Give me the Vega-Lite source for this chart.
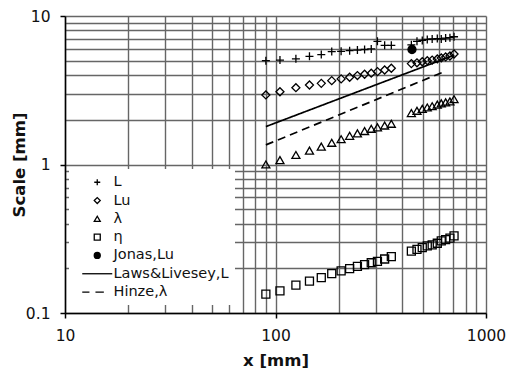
{
  "$schema": "https://vega.github.io/schema/vega-lite/v6.json",
  "width": 421,
  "height": 297,
  "autosize": {"type": "none"},
  "padding": {"left": 65, "top": 16, "right": 22, "bottom": 59},
  "background": "white",
  "config": {
    "view": {"stroke": null},
    "font": "DejaVu Sans",
    "axis": {
      "gridColor": "#666666",
      "gridWidth": 1.4,
      "gridOpacity": 1,
      "domainColor": "black",
      "domainWidth": 1.5,
      "tickColor": "black",
      "tickWidth": 1.5,
      "tickSize": 5,
      "labelFont": "DejaVu Sans",
      "labelFontSize": 15.5,
      "labelColor": "#111",
      "labelOverlap": false,
      "labelFlush": false,
      "titleFont": "DejaVu Sans",
      "titleFontSize": 16.5,
      "titleFontWeight": "bold",
      "titleColor": "#111"
    },
    "legend": {
      "fillColor": "white",
      "padding": 6,
      "symbolOffset": 15,
      "symbolSize": 36,
      "symbolStrokeColor": "black",
      "symbolStrokeWidth": 1.3,
      "symbolOpacity": 1,
      "labelFont": "DejaVu Sans",
      "labelFontSize": 14.5,
      "labelColor": "#111",
      "labelOffset": 9,
      "rowPadding": 3.3
    }
  },
  "datasets": {
    "points": [
      {"series": "L", "x": 90, "y": 5.0}, {"series": "L", "x": 105, "y": 5.05}, {"series": "L", "x": 125, "y": 5.15},
      {"series": "L", "x": 145, "y": 5.35}, {"series": "L", "x": 165, "y": 5.5}, {"series": "L", "x": 185, "y": 5.76},
      {"series": "L", "x": 205, "y": 5.78}, {"series": "L", "x": 225, "y": 5.84}, {"series": "L", "x": 245, "y": 5.9},
      {"series": "L", "x": 265, "y": 5.95}, {"series": "L", "x": 285, "y": 6.0}, {"series": "L", "x": 305, "y": 6.75},
      {"series": "L", "x": 330, "y": 6.35}, {"series": "L", "x": 355, "y": 6.35},
      {"series": "L", "x": 442, "y": 6.4}, {"series": "L", "x": 470, "y": 6.75}, {"series": "L", "x": 498, "y": 6.85},
      {"series": "L", "x": 526, "y": 6.95}, {"series": "L", "x": 555, "y": 7.0}, {"series": "L", "x": 587, "y": 7.05},
      {"series": "L", "x": 613, "y": 7.0}, {"series": "L", "x": 643, "y": 7.1}, {"series": "L", "x": 674, "y": 7.15},
      {"series": "L", "x": 705, "y": 7.25},

      {"series": "Lu", "x": 90, "y": 2.94}, {"series": "Lu", "x": 105, "y": 3.09}, {"series": "Lu", "x": 125, "y": 3.29},
      {"series": "Lu", "x": 145, "y": 3.43}, {"series": "Lu", "x": 165, "y": 3.52}, {"series": "Lu", "x": 185, "y": 3.67},
      {"series": "Lu", "x": 205, "y": 3.77}, {"series": "Lu", "x": 225, "y": 3.87}, {"series": "Lu", "x": 245, "y": 3.97},
      {"series": "Lu", "x": 265, "y": 4.05}, {"series": "Lu", "x": 285, "y": 4.12}, {"series": "Lu", "x": 305, "y": 4.22},
      {"series": "Lu", "x": 330, "y": 4.33}, {"series": "Lu", "x": 355, "y": 4.45},
      {"series": "Lu", "x": 442, "y": 4.78}, {"series": "Lu", "x": 470, "y": 4.84}, {"series": "Lu", "x": 498, "y": 4.92},
      {"series": "Lu", "x": 526, "y": 5.0}, {"series": "Lu", "x": 555, "y": 5.05}, {"series": "Lu", "x": 587, "y": 5.14},
      {"series": "Lu", "x": 613, "y": 5.22}, {"series": "Lu", "x": 643, "y": 5.3}, {"series": "Lu", "x": 674, "y": 5.38},
      {"series": "Lu", "x": 705, "y": 5.55},

      {"series": "λ", "x": 90, "y": 1.0}, {"series": "λ", "x": 105, "y": 1.07}, {"series": "λ", "x": 125, "y": 1.16},
      {"series": "λ", "x": 145, "y": 1.24}, {"series": "λ", "x": 165, "y": 1.32}, {"series": "λ", "x": 185, "y": 1.4},
      {"series": "λ", "x": 205, "y": 1.48}, {"series": "λ", "x": 225, "y": 1.56}, {"series": "λ", "x": 245, "y": 1.62},
      {"series": "λ", "x": 265, "y": 1.68}, {"series": "λ", "x": 285, "y": 1.74}, {"series": "λ", "x": 305, "y": 1.78},
      {"series": "λ", "x": 330, "y": 1.83}, {"series": "λ", "x": 355, "y": 1.88},
      {"series": "λ", "x": 442, "y": 2.22}, {"series": "λ", "x": 470, "y": 2.3}, {"series": "λ", "x": 498, "y": 2.37},
      {"series": "λ", "x": 526, "y": 2.42}, {"series": "λ", "x": 555, "y": 2.47}, {"series": "λ", "x": 587, "y": 2.53},
      {"series": "λ", "x": 613, "y": 2.58}, {"series": "λ", "x": 643, "y": 2.62}, {"series": "λ", "x": 674, "y": 2.66},
      {"series": "λ", "x": 705, "y": 2.75},

      {"series": "η", "x": 90, "y": 0.134}, {"series": "η", "x": 105, "y": 0.141}, {"series": "η", "x": 125, "y": 0.154},
      {"series": "η", "x": 145, "y": 0.164}, {"series": "η", "x": 165, "y": 0.173}, {"series": "η", "x": 185, "y": 0.184},
      {"series": "η", "x": 205, "y": 0.192}, {"series": "η", "x": 225, "y": 0.199}, {"series": "η", "x": 245, "y": 0.206},
      {"series": "η", "x": 265, "y": 0.212}, {"series": "η", "x": 285, "y": 0.218}, {"series": "η", "x": 305, "y": 0.223},
      {"series": "η", "x": 330, "y": 0.231}, {"series": "η", "x": 355, "y": 0.24},
      {"series": "η", "x": 442, "y": 0.261}, {"series": "η", "x": 470, "y": 0.268}, {"series": "η", "x": 498, "y": 0.276},
      {"series": "η", "x": 526, "y": 0.283}, {"series": "η", "x": 555, "y": 0.288}, {"series": "η", "x": 587, "y": 0.295},
      {"series": "η", "x": 613, "y": 0.306}, {"series": "η", "x": 643, "y": 0.312}, {"series": "η", "x": 674, "y": 0.319},
      {"series": "η", "x": 705, "y": 0.331},

      {"series": "Jonas,Lu", "x": 445, "y": 5.95}
    ],
    "curves": [
      {"series": "Laws&Livesey,L", "x": 90, "y": 1.8},
      {"series": "Laws&Livesey,L", "x": 705, "y": 5.45},
      {"series": "Hinze,λ", "x": 90, "y": 1.355},
      {"series": "Hinze,λ", "x": 646, "y": 4.27}
    ]
  },
  "encoding": {
    "x": {
      "field": "x",
      "type": "quantitative",
      "scale": {"type": "log", "domain": [10, 1000], "nice": false},
      "axis": {
        "title": "x [mm]",
        "values": [10, 20, 30, 40, 50, 60, 70, 80, 90, 100, 200, 300, 400, 500, 600, 700, 800, 900, 1000],
        "labelExpr": "datum.value == 10 ? '10' : datum.value == 100 ? '100' : datum.value == 1000 ? '1000' : ''",
        "tickOpacity": {"condition": {"test": "datum.value == 10 || datum.value == 100 || datum.value == 1000", "value": 1}, "value": 0},
        "labelPadding": 10,
        "titleX": 210.5,
        "titleY": 47,
        "titleAlign": "center",
        "titleBaseline": "middle"
      }
    },
    "y": {
      "field": "y",
      "type": "quantitative",
      "scale": {"type": "log", "domain": [0.1, 10], "nice": false},
      "axis": {
        "title": "Scale [mm]",
        "values": [0.1, 0.2, 0.3, 0.4, 0.5, 0.6, 0.7, 0.8, 0.9, 1, 2, 3, 4, 5, 6, 7, 8, 9, 10],
        "labelExpr": "datum.value == 0.1 ? '0.1' : datum.value == 1 ? '1' : datum.value == 10 ? '10' : ''",
        "tickOpacity": {"condition": {"test": "datum.value == 0.1 || datum.value == 1 || datum.value == 10", "value": 1}, "value": 0},
        "labelPadding": 10,
        "titleX": -46,
        "titleY": 148.5,
        "titleAngle": 270,
        "titleAlign": "center",
        "titleBaseline": "middle"
      }
    }
  },
  "layer": [
    {
      "data": {"name": "curves"},
      "mark": {"type": "line", "color": "black", "strokeWidth": 1.7},
      "encoding": {
        "detail": {"field": "series"},
        "strokeDash": {
          "field": "series",
          "type": "nominal",
          "scale": {"domain": ["Laws&Livesey,L", "Hinze,λ"], "range": [[1, 0], [8, 5]]},
          "legend": null
        }
      }
    },
    {
      "data": {"name": "points"},
      "mark": {"type": "point", "stroke": "black", "strokeWidth": 1.3, "opacity": 1},
      "encoding": {
        "shape": {
          "field": "series",
          "type": "nominal",
          "scale": {
            "domain": ["L", "Lu", "λ", "η", "Jonas,Lu", "Laws&Livesey,L", "Hinze,λ"],
            "range": ["M-1,0H1M0,-1V1", "diamond", "triangle-up", "square", "circle", "M-5,0H5", "M-5,0H-2.6M-0.6,0H2.2"]
          },
          "legend": {
            "title": null, "orient": "none", "legendX": 4, "legendY": 153,
            "encode": {"symbols": {"update": {"stroke": {"value": "black"}, "strokeWidth": {"value": 1.3}, "opacity": {"value": 1}}}}
          }
        },
        "fill": {
          "field": "series",
          "type": "nominal",
          "scale": {
            "domain": ["L", "Lu", "λ", "η", "Jonas,Lu", "Laws&Livesey,L", "Hinze,λ"],
            "range": ["transparent", "transparent", "transparent", "transparent", "black", "transparent", "transparent"]
          },
          "legend": {
            "title": null, "orient": "none", "legendX": 4, "legendY": 153,
            "encode": {"symbols": {"update": {"stroke": {"value": "black"}, "strokeWidth": {"value": 1.3}, "opacity": {"value": 1}}}}
          }
        },
        "size": {
          "field": "series",
          "type": "nominal",
          "scale": {
            "domain": ["L", "Lu", "λ", "η", "Jonas,Lu"],
            "range": [64, 64, 60, 44, 70]
          },
          "legend": null
        }
      }
    }
  ]
}
